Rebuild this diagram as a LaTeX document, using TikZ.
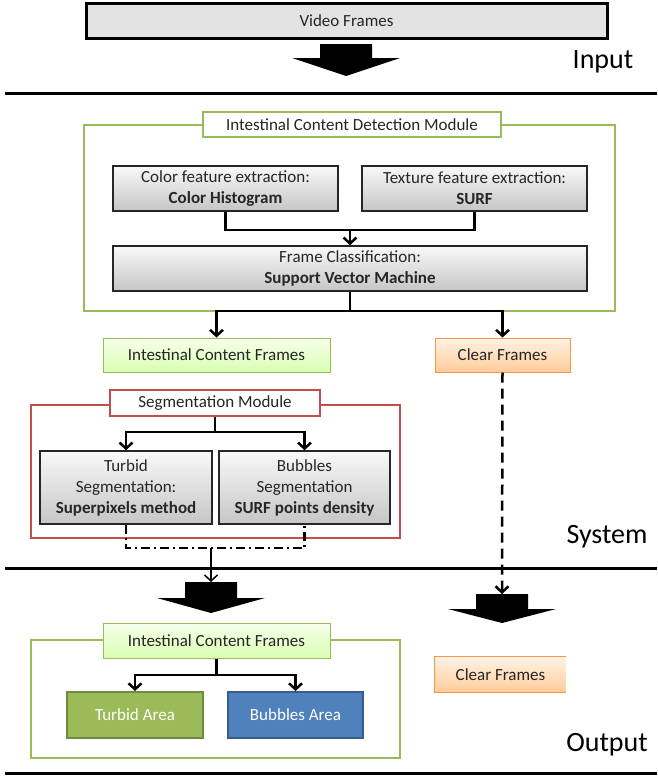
\documentclass[tikz,border=0pt]{standalone}
\usepackage{fontspec}
\setmainfont{Carlito}
\usetikzlibrary{arrows.meta,calc,positioning}
\definecolor{modgreen}{HTML}{9BBB59}
\definecolor{modred}{HTML}{C0504D}
\definecolor{darkgreen}{HTML}{71893F}
\definecolor{modblue}{HTML}{4F81BD}
\definecolor{darkblue}{HTML}{385D8A}
\definecolor{modorange}{HTML}{F79646}
\tikzset{
	every node/.style={
		font=\fontsize{17}{21}\selectfont,
		text=black!85,
		inner sep=0pt
	},
	graybox/.style={
		shape=rectangle,
		draw=black!85,
		line width=1.5pt,
		top color=gray!5,
		bottom color=gray!45,
		align=center
	},
	framesgreen/.style={
		shape=rectangle,
		draw=modgreen,
		line width=1pt,
		top color=green!40!yellow!8,
		bottom color=green!50!yellow!30,
		align=center
	},
	framesorange/.style={
		shape=rectangle,
		draw=modorange,
		line width=1pt,
		top color=orange!10,
		bottom color=orange!40,
		align=center
	},
	title/.style={
		shape=rectangle,
		fill=white,
		line width=2.5pt,
		align=center
	},
	area/.style={
		shape=rectangle,
		line width=2pt,
		text=white,
		align=center
	},
	stage/.style={
		font=\fontsize{28}{32}\selectfont,
		text=black
	},
	conn/.style={
		line width=2.5pt,
		black
	},
	arr/.style={
		conn,
		-{Straight Barb[length=6pt,width=13pt]}
	},
	sep/.style={
		line width=3pt,
		black
	}
}

\begin{document}
\begin{tikzpicture}[x=1pt,y=-1pt]
	
	\useasboundingbox (0,0) rectangle (657,779);
	
	% input
	\node[shape=rectangle, draw=black, line width=3pt, fill=gray!22, minimum width=521pt, minimum height=35pt] (video) at (346.5,20.5) {Video Frames};
	\fill[black] (320,44) -- (372,44) -- (372,58) -- (400,58) -- (346,76) -- (292,58) -- (320,58) -- cycle;
	\node[stage] (input) at (603,62) {Input};
	\draw[sep] (5,93) -- (657,93);
	
	% detection module
	\draw[modgreen, line width=2.5pt] (84,125) rectangle (615,311);
	\node[title, draw=modgreen, minimum width=298pt, minimum height=25pt] (detect) at (352,124.5) {Intestinal Content Detection Module};
	\node[graybox, minimum width=225pt, minimum height=45pt] (color) at (225.5,188.5) {Color feature extraction:\\\textbf{Color Histogram}};
	\node[graybox, minimum width=225pt, minimum height=45pt] (texture) at (474.5,188.5) {Texture feature extraction:\\\textbf{SURF}};
	\node[graybox, minimum width=474pt, minimum height=45pt] (svm) at (350,268.5) {Frame Classification:\\\textbf{Support Vector Machine}};
	\coordinate (j1) at (svm.north |- 0,230);
	\draw[conn] (color.south) |- (j1) -| (texture.south);
	\draw[arr] (j1) -- (svm.north);
	
	\node[framesgreen, minimum width=227pt, minimum height=34pt] (icf) at (216.5,355) {Intestinal Content Frames};
	\node[framesorange, minimum width=135pt, minimum height=34pt] (clear) at (502.5,355) {Clear Frames};
	\coordinate (j2) at (svm.south |- 0,311);
	\draw[conn] (svm.south) -- (j2);
	\draw[arr] (j2) -| (icf.north);
	\draw[arr] (j2) -| (clear.north);
	
	% segmentation module
	\draw[modred, line width=2.5pt] (31,405) rectangle (400,538);
	\node[title, draw=modred, minimum width=210pt, minimum height=26pt] (seg) at (215,403) {Segmentation Module};
	\node[graybox, minimum width=172pt, minimum height=73pt] (turbid) at (126,487.5) {Turbid\\Segmentation:\\\textbf{Superpixels method}};
	\node[graybox, minimum width=171pt, minimum height=73pt] (bubbles) at (304.5,487.5) {Bubbles\\Segmentation\\\textbf{SURF points density}};
	\coordinate (j3) at (seg.south |- 0,432);
	\draw[conn] (seg.south) -- (j3);
	\draw[arr] (j3) -| (turbid.north);
	\draw[arr] (j3) -| (bubbles.north);
	
	\coordinate (j4) at (211,548);
	\draw[conn, dash pattern=on 9pt off 4pt on 2pt off 4pt] (turbid.south) |- (j4) -| (bubbles.south);
	\draw[arr, line width=1.5pt] (j4) -- (211,582);
	\draw[arr, dash pattern=on 10pt off 6pt] (clear.south) -- (502,594);
	
	\node[stage] (system) at (607,537) {System};
	\draw[sep] (5,568) -- (657,568);
	
	% output
	\fill[black] (185,582) -- (237,582) -- (237,598) -- (265,598) -- (211,613) -- (157,598) -- (185,598) -- cycle;
	\fill[black] (476,594) -- (528,594) -- (528,609) -- (556,609) -- (502,623) -- (448,609) -- (476,609) -- cycle;
	
	\draw[modgreen, line width=2.5pt] (31,640) rectangle (400,758);
	\node[framesgreen, minimum width=227pt, minimum height=35pt] (icf2) at (216.5,640.5) {Intestinal Content Frames};
	\node[area, draw=darkgreen, fill=modgreen, minimum width=136pt, minimum height=46pt] (turbidarea) at (135,715) {Turbid Area};
	\node[area, draw=darkblue, fill=modblue, minimum width=135pt, minimum height=46pt] (bubblesarea) at (295.5,715) {Bubbles Area};
	\coordinate (j5) at (icf2.south |- 0,675);
	\draw[conn] (icf2.south) -- (j5);
	\draw[arr] (j5) -| (turbidarea.north);
	\draw[arr] (j5) -| (bubblesarea.north);
	
	\node[shape=rectangle, top color=orange!10, bottom color=orange!40, minimum width=131pt, minimum height=35pt] (clear2) at (500.5,674.5) {Clear Frames};
	\draw[modorange, line width=1pt] (clear2.north east) -- (clear2.north west) -- (clear2.south west) -- (clear2.south east);
	
	\node[stage] (output) at (607,745) {Output};
	\draw[sep] (5,773) -- (657,773);
	
\end{tikzpicture}
\end{document}
